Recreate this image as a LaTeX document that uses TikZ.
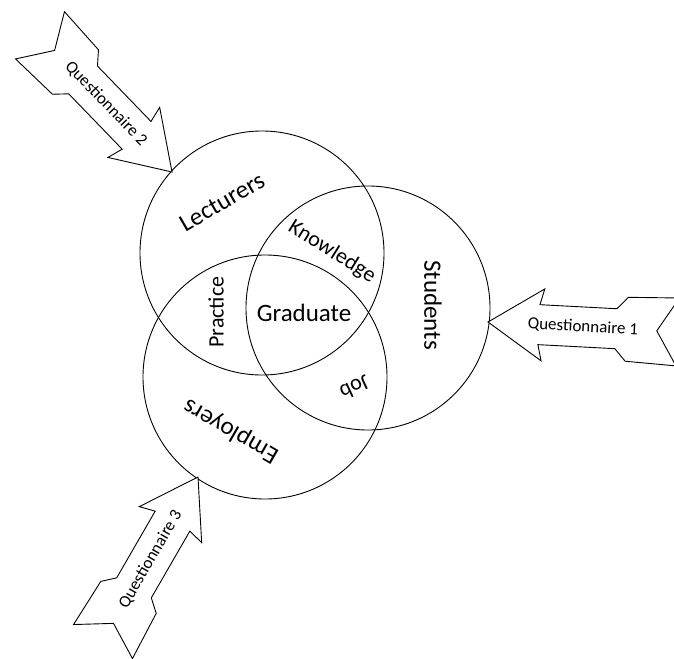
\documentclass[tikz,border=0pt]{standalone}
\usepackage{fontspec}
\setmainfont{Carlito}

\begin{document}
\begin{tikzpicture}[x=1pt,y=-1pt,line width=0.9pt,
        ring/.style={draw,circle,minimum size=244pt,inner sep=0pt},
        big/.style={font=\fontsize{25}{30}\selectfont},
        mid/.style={font=\fontsize{22}{26}\selectfont},
        qarrow/.style={draw,fill=white,line join=miter},
        qtext/.style={font=\fontsize{17}{20}\selectfont}]
        \useasboundingbox (0,0) rectangle (674,658);

        % 三个圆
        \node[ring] (L) at (262,253) {};
        \node[ring] (S) at (368,308) {};
        \node[ring] (E) at (265,377) {};

        % 圆中文字
        \node[big,rotate=30] (lec) at (222,202) {Lecturers};
        \node[big,rotate=-90] (stu) at (433,305) {Students};
        \node[big,rotate=150] (emp) at (231,431) {Employers};
        \node[big] (grad) at (304,313) {Graduate};
        \node[mid,rotate=-32] (know) at (332,252) {Knowledge};
        \node[mid,rotate=90] (prac) at (216,312) {Practice};
        \node[mid,rotate=205] (job) at (355,388) {Job};

        % 问卷箭头
        \foreach \x/\y/\a/\t/\n in {488/322/177/-3/1, 172/172/-46/-46/2, 198/477/60/60/3}
            {
                \coordinate (q\n) at (\x,\y);
                \begin{scope}[shift={(q\n)},rotate=\a]
                    \draw[qarrow] (0,0) -- (-55,36) -- (-51,20) -- (-128,20) -- (-139,32) -- (-190,34)
                        -- (-169,0) -- (-190,-34) -- (-139,-32) -- (-128,-20) -- (-51,-20) -- (-55,-36) -- cycle;
                    \node[qtext,rotate=\t] (t\n) at (-95,0) {Questionnaire \n};
                \end{scope}
            }

    \end{tikzpicture}
\end{document}
